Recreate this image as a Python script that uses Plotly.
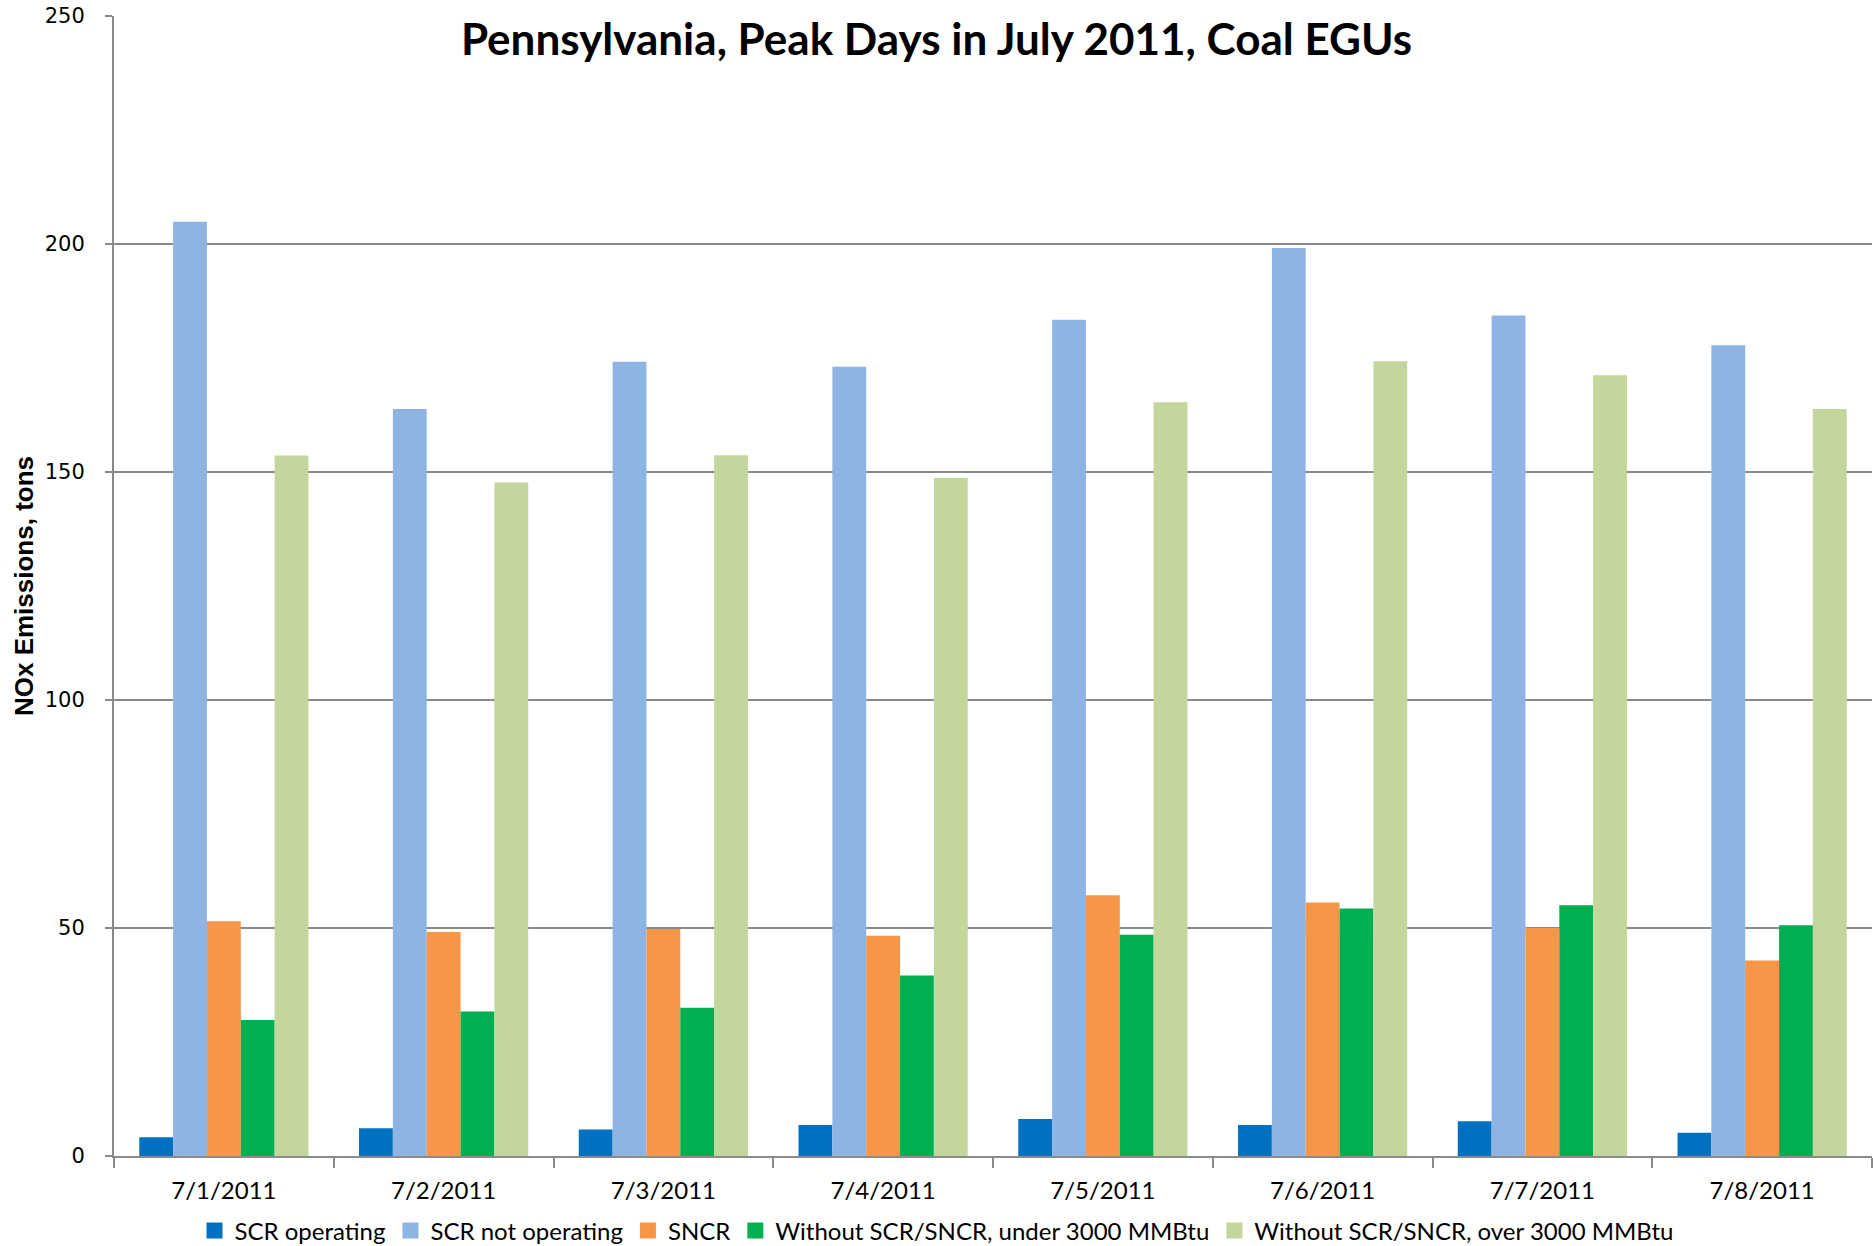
import plotly.graph_objects as go

dates = ["7/1/2011", "7/2/2011", "7/3/2011", "7/4/2011", "7/5/2011", "7/6/2011", "7/7/2011", "7/8/2011"]
scr_operating = [4.1, 6.1, 5.8, 6.8, 8.1, 6.8, 7.6, 5.1]
scr_not_operating = [204.9, 163.8, 174.2, 173.1, 183.4, 199.1, 184.3, 177.8]
sncr = [51.5, 49.1, 49.8, 48.3, 57.2, 55.6, 50.0, 42.9]
without_under_3000 = [29.8, 31.7, 32.5, 39.6, 48.5, 54.3, 55.0, 50.6]
without_over_3000 = [153.6, 147.7, 153.7, 148.7, 165.3, 174.3, 171.2, 163.8]

series_names = ["SCR operating", "SCR not operating", "SNCR",
                "Without SCR/SNCR, under 3000 MMBtu", "Without SCR/SNCR, over 3000 MMBtu"]
series_values = [scr_operating, scr_not_operating, sncr, without_under_3000, without_over_3000]
colors = ["#0070C0", "#8EB4E3", "#F79646", "#00B050", "#C3D69B"]

y_ticks = [0, 50, 100, 150, 200, 250]

fig = go.Figure()
for name, vals, col in zip(series_names, series_values, colors):
    fig.add_trace(go.Bar(x=dates, y=vals, name=name, showlegend=False, legendgroup=name,
                         marker=dict(color=col, line=dict(width=0))))
# legend entries with larger square swatches
for name, col in zip(series_names, colors):
    fig.add_trace(go.Scatter(x=[None], y=[None], mode="markers", name=name, legendgroup=name,
                             marker=dict(symbol="square", size=16, color=col)))

grid_col = "#8A8A8A"
fig.update_layout(
    width=1873, height=1246,
    paper_bgcolor="white", plot_bgcolor="white",
    margin=dict(l=114, r=1, t=16, b=90),
    barmode="group", bargap=0.23, bargroupgap=0,
    title=dict(text="<b>Pennsylvania, Peak Days in July 2011, Coal EGUs</b>",
               x=0.5, xref="container", xanchor="center",
               y=1 - 40 / 1246, yref="container", yanchor="middle",
               font=dict(family="Lato, Open Sans, sans-serif", size=44, color="black")),
    legend=dict(orientation="h", x=0.5, xref="container", xanchor="center",
                y=1 - 1231 / 1246, yref="container", yanchor="middle",
                font=dict(family="Lato, Open Sans, sans-serif", size=24, color="black"),
                itemsizing="trace", traceorder="normal"),
    xaxis=dict(type="category", showgrid=False, showline=True, linecolor=grid_col, linewidth=2,
               ticks="outside", tickson="boundaries", ticklen=10, tickcolor=grid_col, tickwidth=1.5,
               ticklabelstandoff=12,
               tickfont=dict(family="Lato, Open Sans, sans-serif", size=24, color="black")),
    yaxis=dict(range=[0, 250], tickvals=y_ticks, showgrid=True, gridcolor=grid_col, gridwidth=1.5,
               showline=True, linecolor=grid_col, linewidth=2, zeroline=False,
               ticks="outside", ticklen=7, tickcolor=grid_col, tickwidth=1.5,
               ticklabelstandoff=16,
               tickfont=dict(family="DejaVu Sans, Verdana, sans-serif", size=21, color="black"),
               title=dict(text="<b>NOx Emissions, tons</b>", standoff=4,
                          font=dict(family="Liberation Sans Narrow, Arial Narrow, Liberation Sans, sans-serif",
                                    size=26, color="black"))),
)

fig.write_html("out.html", config={"displayModeBar": False},
               post_script="document.body.style.margin='0';")
